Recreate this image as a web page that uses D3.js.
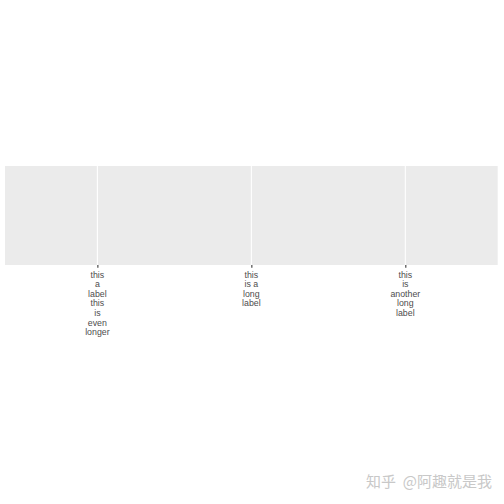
<!DOCTYPE html>
<html><head><meta charset="utf-8">
<script src="https://cdn.jsdelivr.net/npm/d3@7/dist/d3.min.js"></script>
<style>body{margin:0;background:#fff}svg{display:block}</style>
</head><body>
<script>
const categories = ["this a label this is even longer", "this is a long label", "this is another long label"];
const tickLabelLines = [
  ["this","a","label","this","is","even","longer"],
  ["this","is a","long","label"],
  ["this","is","another","long","label"]
];
const watermark = "知乎 @阿趣就是我";

const W = 504, H = 504;
const margin = {top:166, right:6.3, bottom:239, left:5};
const svg = d3.select("body").append("svg").attr("width", W).attr("height", H);
const pw = W - margin.left - margin.right, ph = H - margin.top - margin.bottom;
const g = svg.append("g").attr("transform", `translate(${margin.left},${margin.top})`);

const x = d3.scalePoint().domain(categories).range([0, pw]).padding(0.6);

g.append("rect").attr("width", pw).attr("height", ph).attr("fill", "#ebebeb");
g.selectAll("line.grid").data(categories).join("line")
  .attr("class","grid")
  .attr("x1", d => x(d)).attr("x2", d => x(d))
  .attr("y1", 0).attr("y2", ph)
  .attr("stroke", "#fff").attr("stroke-width", 1.07);

const axis = g.append("g").attr("transform", `translate(0,${ph})`)
  .call(d3.axisBottom(x).tickSize(2.75).tickPadding(2).tickFormat(""));
axis.select(".domain").remove();
axis.selectAll(".tick line").attr("stroke", "#333333").attr("stroke-width", 1.07);

categories.forEach((c, i) => {
  const t = g.append("text")
    .attr("x", x(c)).attr("y", ph + 12.5)
    .attr("text-anchor", "middle")
    .attr("font-family", "Liberation Sans, Arial, sans-serif")
    .attr("font-size", 8.8).attr("fill", "#4d4d4d");
  tickLabelLines[i].forEach((ln, j) => {
    t.append("tspan").attr("x", x(c)).attr("dy", j === 0 ? 0 : 9.6).text(ln);
  });
});

svg.append("text").attr("x", 492).attr("y", 487)
  .attr("text-anchor", "end")
  .attr("font-family", "Noto Sans CJK SC, sans-serif")
  .attr("font-size", 15).attr("fill", "#c8c8c8")
  .attr("xml:space", "preserve")
  .text("知乎  @阿趣就是我");
</script>
</body></html>
